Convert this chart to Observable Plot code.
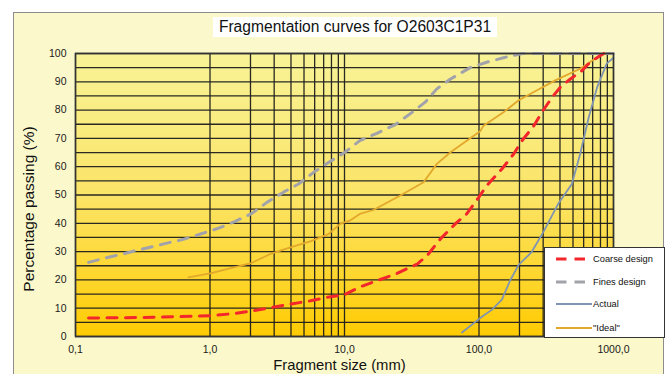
<!DOCTYPE html>
<html>
<head>
<meta charset="utf-8">
<script src="https://cdn.jsdelivr.net/npm/d3@7"></script>
<script src="https://cdn.jsdelivr.net/npm/@observablehq/plot@0.6"></script>
<style>
  body { margin: 0; background: #ffffff; font-family: "Liberation Sans", Arial, sans-serif; }
  #wrap { position: relative; width: 669px; height: 374px; overflow: hidden; }
  #outer { position: absolute; left: 13px; top: 12px; width: 651px; height: 380px; background: #FBF8CB; border: 1.5px solid #8c8c8c; box-sizing: border-box; }
  #chart { position: absolute; left: 0; top: 0; }
  #title { position: absolute; left: 213px; top: 17px; width: 284px; height: 20px; background: #ffffff; font-size: 15.6px; line-height: 20px; text-align: center; color: #111; white-space: nowrap; }
  #legend { position: absolute; left: 544px; top: 247px; width: 121px; height: 91px; background: #ffffff; border: 1.5px solid #333; box-sizing: border-box; }
  .lrow { position: absolute; left: 0; height: 14px; width: 120px; }
  .lrow svg { position: absolute; left: 10px; top: 2px; }
  .lrow span { position: absolute; left: 48px; top: 0; font-size: 9.3px; line-height: 14px; color: #111; white-space: nowrap; }
</style>
</head>
<body>
<div id="wrap">
  <div id="outer"></div>
  <div id="chart"></div>
  <div id="title"></div>
  <div id="legend"></div>
</div>
<script>
const titleText = "Fragmentation curves for O2603C1P31";
const xLabel = "Fragment size (mm)";
const yLabel = "Percentage passing (%)";

const xTicks = [0.1, 1, 10, 100, 1000];
const xTickLabels = ["0,1", "1,0", "10,0", "100,0", "1000,0"];
const yTicks = [0, 10, 20, 30, 40, 50, 60, 70, 80, 90, 100];
const xGrid = [0.1, 1, 2, 3, 4, 5, 6, 7, 8, 9, 10, 100, 200, 300, 400, 500, 600, 700, 800, 900, 1000];
const yGrid = [0, 5, 10, 15, 20, 25, 30, 35, 40, 45, 50, 55, 60, 65, 70, 75, 80, 85, 90, 95, 100];

const seriesNames = ["Coarse design", "Fines design", "Actual", "\"Ideal\""];
const seriesColors = ["#F2262B", "#A2A3AA", "#7F94B2", "#E2A82C"];

const coarseSize = [0.125, 0.4, 1.0, 1.5, 2.1, 4, 5.6, 7.4, 10, 13, 17.4, 24.6, 34.7, 41, 51.5, 66.6, 81, 99, 114, 148, 181, 209, 256, 293, 349, 401, 478, 585, 670, 800, 850];
const coarsePct  = [6.5, 6.8, 7.3, 8.1, 9.1, 11.5, 12.6, 13.8, 14.8, 17.5, 19.7, 22.3, 25.6, 28.5, 34.4, 39.8, 43.3, 49, 53.3, 59.2, 64.5, 69.2, 74.5, 79.2, 84.5, 88, 91, 94, 96.9, 99.3, 100];

const finesSize = [0.125, 0.176, 0.248, 0.34, 0.47, 0.64, 0.85, 1.16, 1.54, 2.05, 2.65, 3.52, 4.55, 5.9, 7.6, 10, 13, 17.4, 23.9, 31.8, 39.8, 48.6, 61.4, 86, 114, 152, 181, 210, 1000];
const finesPct  = [26.2, 28, 29.7, 31.3, 32.9, 34.4, 36.2, 38.3, 40.7, 43.5, 47.4, 51, 53.9, 58, 61.5, 65, 69.2, 71.8, 74.9, 79.2, 82.8, 87.5, 91, 95, 96.9, 98.5, 99.3, 100, 100];

const actualSize = [74.7, 102, 125, 148, 170, 197, 245, 300, 387, 490, 565, 655, 755, 890, 1000];
const actualPct  = [1.4, 6.5, 9.5, 13, 19.7, 25.3, 29.7, 36.8, 46.8, 53.9, 64.5, 77.5, 88, 96.4, 98.5];

const idealSize = [0.69, 1.0, 1.19, 1.68, 2, 2.89, 3.96, 5.57, 7.6, 9.3, 11, 13, 16.4, 26, 38.7, 48.6, 61.4, 81, 102, 108, 152, 196, 268, 369, 565, 800];
const idealPct  = [20.9, 22.3, 23.2, 25, 25.8, 29.4, 31.5, 33.6, 36.2, 39.8, 41, 43.3, 44.7, 49.8, 54.5, 61, 65.1, 69.2, 72.5, 74.5, 79.2, 83.4, 86.9, 90.5, 94.6, 99.5];

const toRows = (sizes, pcts) => sizes.map((s, i) => ({size: s, pct: pcts[i]}));
const coarse = toRows(coarseSize, coarsePct);
const fines = toRows(finesSize, finesPct);
const actual = toRows(actualSize, actualPct);
const ideal = toRows(idealSize, idealPct);

const font = '"Liberation Sans", Arial, sans-serif';

const chart = Plot.plot({
  width: 669,
  height: 374,
  marginLeft: 75,
  marginRight: 56,
  marginTop: 53,
  marginBottom: 38,
  style: {background: "transparent", fontFamily: font, fontSize: "10.5px", color: "#1a1a1a", overflow: "visible"},
  x: {type: "log", domain: [0.1, 1000], ticks: xTicks, tickFormat: d => xTickLabels[xTicks.indexOf(d)] ?? "", tickSize: 0, tickPadding: 9, label: null},
  y: {domain: [0, 100], ticks: yTicks, tickSize: 0, tickPadding: 9, label: null},
  marks: [
    Plot.frame({fill: "url(#bgGrad)"}),
    Plot.ruleY(yGrid, {stroke: "#1e1e1e", strokeWidth: 1.3, strokeOpacity: 0.95}),
    Plot.ruleX(xGrid, {stroke: "#1e1e1e", strokeWidth: 1.3, strokeOpacity: 0.95}),
    Plot.line(ideal, {x: "size", y: "pct", stroke: seriesColors[3], strokeWidth: 1.8}),
    Plot.line(actual, {x: "size", y: "pct", stroke: seriesColors[2], strokeWidth: 1.8}),
    Plot.line(fines, {x: "size", y: "pct", stroke: seriesColors[1], strokeWidth: 3, strokeDasharray: "10,8.5"}),
    Plot.line(coarse, {x: "size", y: "pct", stroke: seriesColors[0], strokeWidth: 3, strokeDasharray: "10,8.5"}),
    Plot.frame({stroke: "#333", strokeWidth: 1.5}),
    Plot.text([yLabel], {frameAnchor: "left", rotate: -90, dx: -46, dy: 14, fontSize: 15.5, textAnchor: "middle", lineAnchor: "middle", fill: "#111"}),
    Plot.text([xLabel], {frameAnchor: "bottom", dx: -5, dy: 29, fontSize: 14.8, textAnchor: "middle", lineAnchor: "middle", fill: "#111"})
  ]
});

const svg = d3.select(chart);
const grad = svg.insert("defs", ":first-child").append("linearGradient")
  .attr("id", "bgGrad").attr("x1", 0).attr("y1", 0).attr("x2", 0).attr("y2", 1);
grad.append("stop").attr("offset", "0%").attr("stop-color", "#F8F397");
grad.append("stop").attr("offset", "50%").attr("stop-color", "#FBE467");
grad.append("stop").attr("offset", "100%").attr("stop-color", "#FFCB02");

document.getElementById("chart").appendChild(chart);
document.getElementById("title").textContent = titleText;

const legend = document.getElementById("legend");
const rowTops = [4, 27, 49, 73];
const dashed = [true, true, false, false];
seriesNames.forEach((name, i) => {
  const row = document.createElement("div");
  row.className = "lrow";
  row.style.top = rowTops[i] + "px";
  const w = dashed[i] ? 31 : 37;
  row.innerHTML = `<svg width="40" height="10"><line x1="1" y1="5" x2="${w}" y2="5" stroke="${seriesColors[i]}" stroke-width="${dashed[i] ? 3 : 2}" ${dashed[i] ? 'stroke-dasharray="10.5,8"' : ''}/></svg><span>${name.replace(/"/g, "&quot;")}</span>`;
  legend.appendChild(row);
});
</script>
</body>
</html>
